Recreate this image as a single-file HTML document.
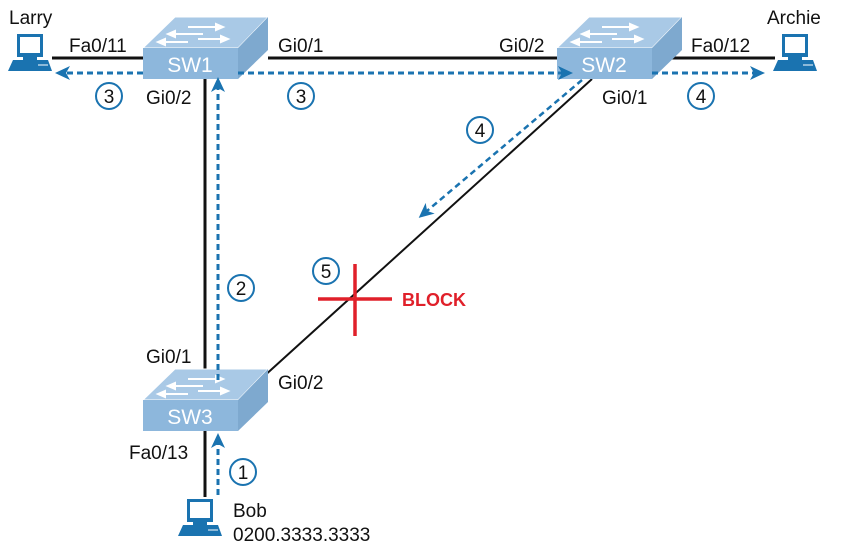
<!DOCTYPE html>
<html><head><style>
body{margin:0;background:#fff}
svg{display:block;font-family:"Liberation Sans",sans-serif}
</style></head><body>
<svg width="842" height="550" viewBox="0 0 842 550">
<defs>
<marker id="ar" markerWidth="16" markerHeight="14" refX="12" refY="7" orient="auto" markerUnits="userSpaceOnUse">
<path d="M0,0 L15,7 L0,14 L4,7 Z" fill="#1a73b0"/></marker>
<g id="sw">
<polygon points="0,31 32,0 125,0 95,31" fill="#a9c9e6" stroke="#fff" stroke-width="1"/>
<polygon points="95,31 125,0 125,33 95,62" fill="#7ea9cf"/>
<rect x="0" y="31" width="95" height="31" fill="#8db7dc"/>
<g stroke="#fff" stroke-width="2" fill="#fff">
<line x1="45" y1="10" x2="75" y2="10"/><polygon points="80,10 73,7 73,13"/>
<line x1="60" y1="17" x2="30" y2="17"/><polygon points="25,17 32,14 32,20"/>
<line x1="55" y1="22" x2="80" y2="22"/><polygon points="85,22 78,19 78,25"/>
<line x1="45" y1="25" x2="20" y2="25"/><polygon points="15,25 22,22 22,28"/>
</g>
</g>
<g id="pc">
<rect x="9" y="0" width="26" height="23" fill="#1a73b0"/>
<rect x="12" y="3" width="20" height="16" fill="#fff"/>
<rect x="15" y="23" width="14" height="3" fill="#1a73b0"/>
<polygon points="5,26 40,26 44,37 0,37" fill="#1a73b0"/>
<line x1="30" y1="31" x2="40" y2="31" stroke="#fff" stroke-width="1"/>
</g>
</defs>
<g stroke="#111" stroke-width="3">
<line x1="52" y1="58" x2="143" y2="58"/>
<line x1="268" y1="58" x2="557" y2="58"/>
<line x1="660" y1="58" x2="775" y2="58"/>
<line x1="205" y1="79" x2="205" y2="372"/>
<line x1="205" y1="431" x2="205" y2="497"/>
</g>
<line x1="592" y1="79" x2="262" y2="378" stroke="#111" stroke-width="2"/>
<use href="#sw" x="143" y="17"/>
<use href="#sw" x="557" y="17"/>
<use href="#sw" x="143" y="369"/>
<g stroke="#1a73b0" stroke-width="3" stroke-dasharray="6,4" fill="none">
<line x1="143" y1="73" x2="58" y2="73" marker-end="url(#ar)"/>
<line x1="238" y1="73" x2="570" y2="73" marker-end="url(#ar)"/>
<line x1="652" y1="73" x2="762" y2="73" marker-end="url(#ar)"/>
<line x1="218" y1="380" x2="218" y2="80" marker-end="url(#ar)"/>
<line x1="218" y1="495" x2="218" y2="436" marker-end="url(#ar)"/>
<line x1="582" y1="80" x2="421" y2="216" marker-end="url(#ar)" stroke-width="2.5"/>
</g>
<g fill="#fff" stroke="#1a73b0" stroke-width="2">
<circle cx="109" cy="96" r="13"/><circle cx="301" cy="96" r="13"/>
<circle cx="701" cy="96" r="13"/><circle cx="480" cy="130" r="13"/>
<circle cx="241" cy="288" r="13"/><circle cx="326" cy="271" r="13"/>
<circle cx="243" cy="472" r="13"/>
</g>
<g font-size="19" fill="#111" text-anchor="middle">
<text x="109" y="103">3</text><text x="301" y="103">3</text>
<text x="701" y="103">4</text><text x="480" y="137">4</text>
<text x="241" y="295">2</text><text x="326" y="278">5</text>
<text x="243" y="479">1</text>
</g>
<g stroke="#e0202a" stroke-width="3.5">
<line x1="318" y1="299" x2="392" y2="299"/>
<line x1="355" y1="264" x2="355" y2="336"/>
</g>
<text x="402" y="306" font-size="18" font-weight="bold" fill="#e0202a">BLOCK</text>
<g font-size="19" fill="#111">
<text x="9" y="24">Larry</text>
<text x="767" y="24">Archie</text>
<text x="69" y="52">Fa0/11</text>
<text x="278" y="52">Gi0/1</text>
<text x="499" y="52">Gi0/2</text>
<text x="691" y="52">Fa0/12</text>
<text x="146" y="104">Gi0/2</text>
<text x="602" y="104">Gi0/1</text>
<text x="146" y="363">Gi0/1</text>
<text x="278" y="389">Gi0/2</text>
<text x="129" y="459">Fa0/13</text>
<text x="233" y="517">Bob</text>
<text x="233" y="541">0200.3333.3333</text>
</g>
<g fill="#fff" font-size="21">
<text x="190" y="72" text-anchor="middle">SW1</text>
<text x="604" y="72" text-anchor="middle">SW2</text>
<text x="190" y="424" text-anchor="middle">SW3</text>
</g>
<use href="#pc" x="8" y="34"/>
<use href="#pc" x="773" y="34"/>
<use href="#pc" x="178" y="499"/>
</svg>
</body></html>
